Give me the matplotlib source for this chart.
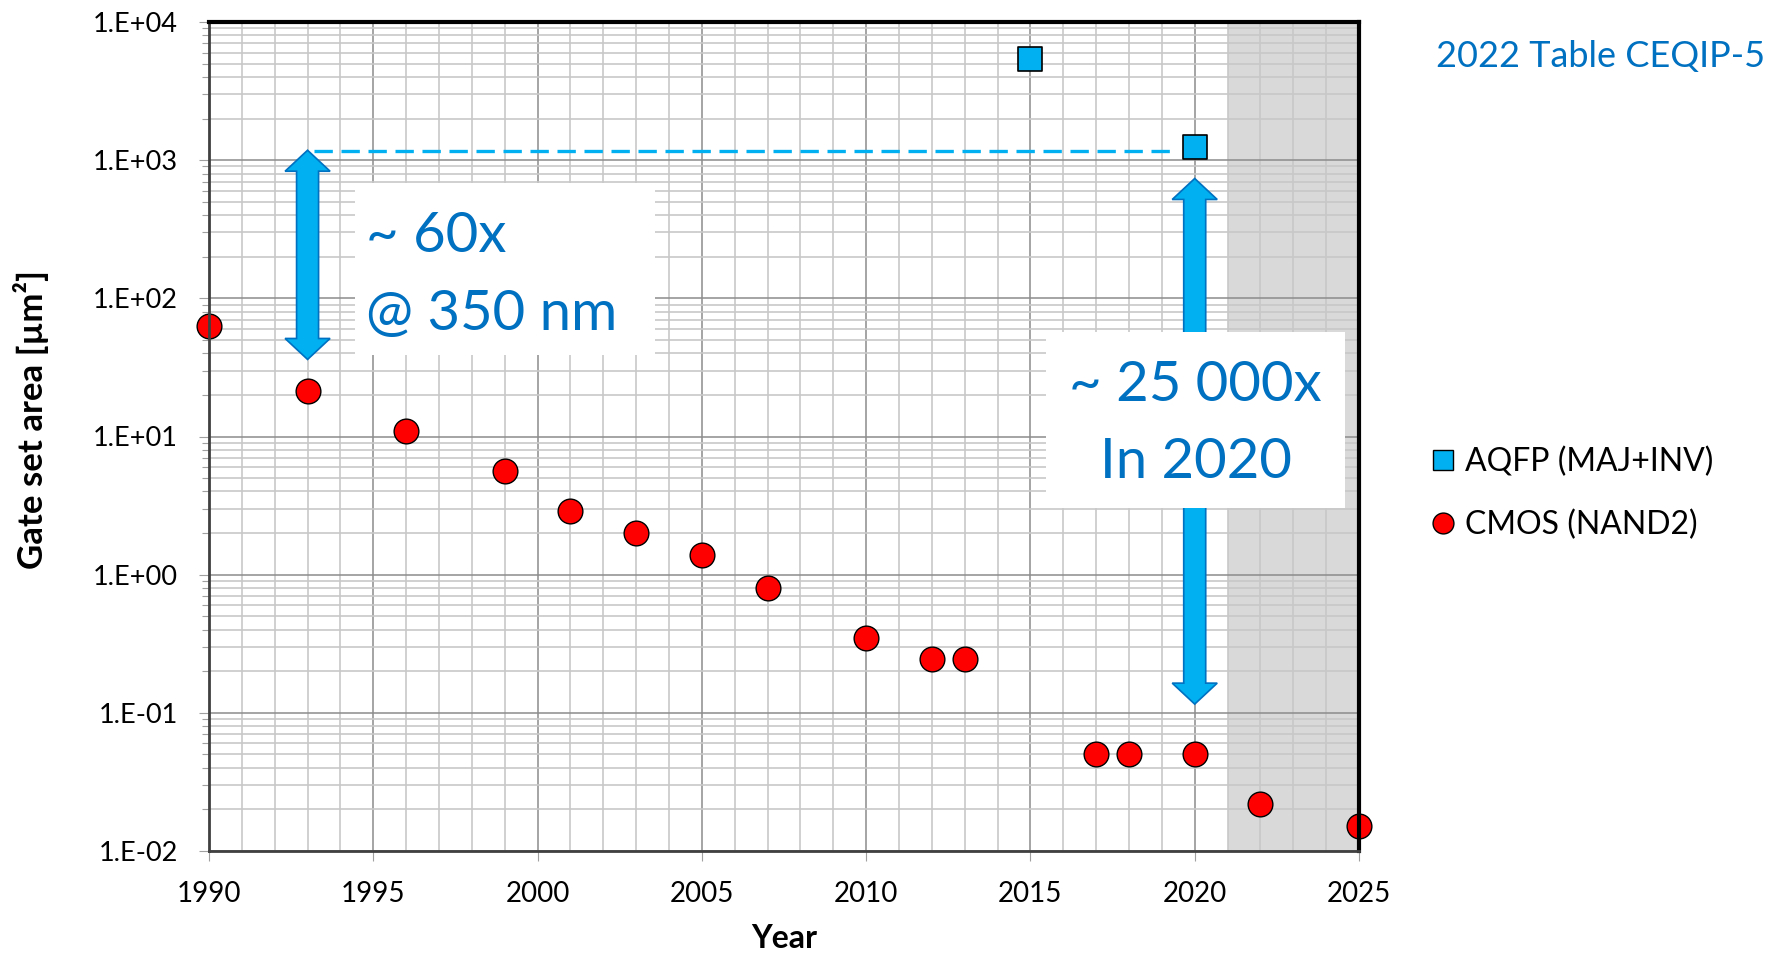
import matplotlib
matplotlib.use("Agg")
import matplotlib.pyplot as plt
import numpy as np
from matplotlib.patches import Polygon, Rectangle
from matplotlib.lines import Line2D
from matplotlib.ticker import FixedLocator, LogLocator, NullFormatter, FixedFormatter

# ---------------- data ----------------
cmos_years = [1990, 1993, 1996, 1999, 2001, 2003, 2005, 2007, 2010, 2012, 2013, 2017, 2018, 2020, 2022, 2025]
cmos_area = [63, 21.2, 10.9, 5.6, 2.9, 2.0, 1.39, 0.80, 0.35, 0.247, 0.247, 0.05, 0.05, 0.05, 0.022, 0.0152]
aqfp_years = [2015, 2020]
aqfp_area = [5400, 1240]
ref_line_years = [1993.2, 2019.3]
ref_line_area = [1170, 1170]
x_ticks = [1990, 1995, 2000, 2005, 2010, 2015, 2020, 2025]
y_ticks = [1e-2, 1e-1, 1e0, 1e1, 1e2, 1e3, 1e4]
y_tick_labels = ["1.E-02", "1.E-01", "1.E+00", "1.E+01", "1.E+02", "1.E+03", "1.E+04"]
shade_years = [2021, 2025]

FONT = "Lato"
plt.rcParams["font.family"] = [FONT, "DejaVu Sans"]

W, H = 1779, 956
fig = plt.figure(figsize=(W / 100, H / 100), dpi=100)
ax = fig.add_axes([209 / W, 1 - 851 / H, 1150 / W, 829 / H])

ax.set_xlim(1990, 2025)
ax.set_yscale("log")
ax.set_ylim(1e-2, 1e4)

# shading
ax.axvspan(shade_years[0], shade_years[1], color="#D9D9D9", zorder=0.2, lw=0)

# grid
ax.xaxis.set_major_locator(FixedLocator(x_ticks))
ax.xaxis.set_minor_locator(FixedLocator(np.arange(1990, 2026, 1)))
ax.yaxis.set_major_locator(FixedLocator(y_ticks))
ax.yaxis.set_major_formatter(FixedFormatter(y_tick_labels))
ax.yaxis.set_minor_locator(LogLocator(base=10, subs=np.arange(2, 10), numticks=20))
ax.yaxis.set_minor_formatter(NullFormatter())
ax.set_axisbelow(True)
ax.grid(which="minor", color="#C8C8C8", lw=1.2)
ax.grid(which="major", color="#8C8C8C", lw=1.1)
for gl in ax.get_xgridlines() + ax.get_ygridlines():
    gl.set_zorder(0.3)

ax.tick_params(axis="x", which="major", length=7.5, width=0.8, color="#A0A0A0", labelsize=20, pad=14)
ax.tick_params(axis="x", which="minor", length=0)
ax.tick_params(axis="y", which="major", length=7.5, width=0.8, color="#A0A0A0", labelsize=19.5, pad=15)
ax.tick_params(axis="y", which="minor", length=5, width=0.8, color="#A0A0A0")

for s in ["left", "bottom"]:
    ax.spines[s].set_color("#404040")
    ax.spines[s].set_linewidth(2.0)
for s in ["top", "right"]:
    ax.spines[s].set_color("black")
    ax.spines[s].set_linewidth(3.0)
for s in ax.spines.values():
    s.set_zorder(6)

ax.set_xlabel("Year", fontsize=23, fontweight="bold")
ax.xaxis.set_label_coords(0.5, (851 - 948) / 829)
ax.xaxis.label.set_verticalalignment("baseline")
ax.set_ylabel("Gate set area [µm²]", fontsize=25, fontweight="bold")
ax.yaxis.set_label_coords((49 - 209) / 1150, (851 - 420) / 829)

# reference dashed line
ax.plot(ref_line_years, ref_line_area, color="#00B0F0", lw=2.4, dashes=(5.5, 2.6), zorder=2)

# arrows
fig.canvas.draw()
def block_arrow(x, y_top, y_bot, ws=22, wh=45, hl=21, zorder=3):
    xd, yt = ax.transData.transform((x, y_top))
    _, yb = ax.transData.transform((x, y_bot))
    pts = [(xd, yt), (xd + wh / 2, yt - hl), (xd + ws / 2, yt - hl), (xd + ws / 2, yb + hl),
           (xd + wh / 2, yb + hl), (xd, yb), (xd - wh / 2, yb + hl), (xd - ws / 2, yb + hl),
           (xd - ws / 2, yt - hl), (xd - wh / 2, yt - hl)]
    data_pts = ax.transData.inverted().transform(pts)
    ax.add_patch(Polygon(data_pts, closed=True, facecolor="#00B0F0", edgecolor="#0070C0",
                         lw=1.2, zorder=zorder))

block_arrow(1993, 1180, 36.1)
block_arrow(2020, 737, 0.1156)

# white annotation boxes
ax.add_patch(Rectangle((1994.45, 39.0), 2003.58 - 1994.45, 687 - 39.0, facecolor="white",
                       edgecolor="none", zorder=4))
ax.add_patch(Rectangle((2015.46, 3.04), 2024.57 - 2015.46, 57.0 - 3.04, facecolor="white",
                       edgecolor="none", zorder=4))

blue = "#0070C0"
fs_big = 40.5
fig.text(366 / W, 1 - 252 / H, "~ 60x", color=blue, fontsize=fs_big, ha="left", va="baseline", zorder=7)
fig.text(366 / W, 1 - 330 / H, "@ 350 nm", color=blue, fontsize=fs_big, ha="left", va="baseline", zorder=7)
fig.text(1195 / W, 1 - 401 / H, "~ 25 000x", color=blue, fontsize=fs_big, ha="center", va="baseline", zorder=7)
fig.text(1196 / W, 1 - 478 / H, "In 2020", color=blue, fontsize=fs_big, ha="center", va="baseline", zorder=7)

# data points
ax.scatter(cmos_years, cmos_area, s=17.8 ** 2, marker="o", facecolor="#FF0000", edgecolor="black",
           lw=1.0, zorder=5, clip_on=False, label="CMOS (NAND2)")
ax.scatter(aqfp_years, aqfp_area, s=17.8 ** 2, marker="s", facecolor="#00B0F0", edgecolor="black",
           lw=1.2, zorder=5, clip_on=False, label="AQFP (MAJ+INV)")

# title text
fig.text(1436 / W, 1 - 66.7 / H, "2022 Table CEQIP-5", color=blue, fontsize=26, ha="left", va="baseline")

# legend
handles = [
    Line2D([], [], ls="none", marker="s", markersize=15, markerfacecolor="#00B0F0", markeredgecolor="black", markeredgewidth=1.0),
    Line2D([], [], ls="none", marker="o", markersize=15, markerfacecolor="#FF0000", markeredgecolor="black", markeredgewidth=1.0),
]
fig.legend(handles, ["AQFP (MAJ+INV)", "CMOS (NAND2)"], loc="upper left",
           bbox_to_anchor=(1433 / W, 1 - 447 / H), frameon=False, fontsize=23,
           handlelength=0.65, handletextpad=0.35, labelspacing=1.0, borderpad=0, borderaxespad=0)

fig.savefig("out.png", dpi=100)
